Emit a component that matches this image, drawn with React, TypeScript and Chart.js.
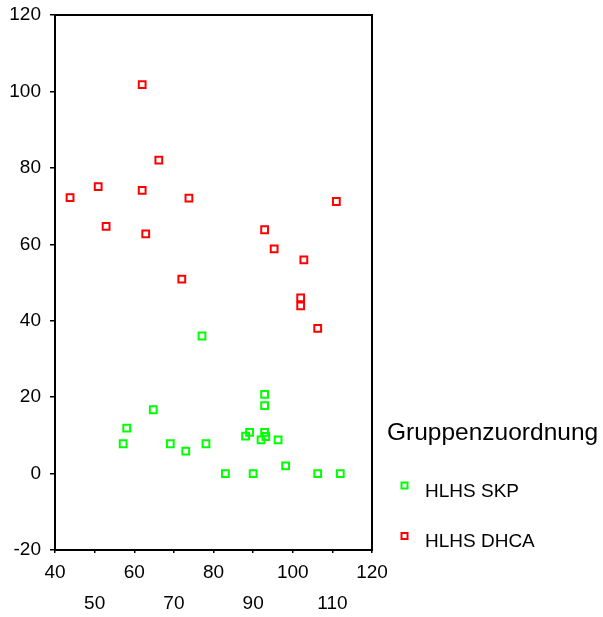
import React, { useEffect, useRef } from 'react';
import { Chart, registerables } from 'chart.js';

Chart.register(...registerables);

// Data
const skpX = [77.1, 92.9, 92.9, 64.8, 58.1, 57.2, 69.1, 73.0, 78.1, 83.0, 90.0, 88.1, 89.1, 92.0, 92.9, 93.2, 96.3, 98.2, 106.3, 112.0];
const skpY = [36, 20.7, 17.8, 16.7, 11.9, 7.8, 7.8, 5.9, 7.8, 0, 0, 9.8, 10.8, 8.8, 10.8, 9.7, 8.8, 2, 0, 0];
const dhcaX = [43.8, 50.9, 52.9, 62.0, 62.0, 62.9, 66.2, 73.8, 72.0, 92.9, 95.3, 102.8, 111.0, 102.0, 102.0, 106.3];
const dhcaY = [72.2, 75.1, 64.7, 101.8, 74.1, 62.7, 82.0, 72.1, 50.9, 63.8, 58.8, 55.9, 71.2, 46.0, 43.9, 38.0];

const seriesLabels = ['HLHS SKP', 'HLHS DHCA'];
const seriesColors = ['#00ff00', '#ff0000'];
const legendTitle = 'Gruppenzuordnung';

const xTicks = [40, 50, 60, 70, 80, 90, 100, 110, 120];
const yTicks = [-20, 0, 20, 40, 60, 80, 100, 120];

const FONT = '"Liberation Sans", Arial, Helvetica, sans-serif';

const framePlugin = {
  id: 'frame',
  beforeDatasetsDraw(chart: any) {
    const { ctx, chartArea } = chart;
    ctx.save();
    ctx.strokeStyle = '#000';
    ctx.lineWidth = 2;
    ctx.strokeRect(chartArea.left, chartArea.top, chartArea.right - chartArea.left, chartArea.bottom - chartArea.top);
    ctx.restore();
  },
};

const sideLegendPlugin = {
  id: 'sideLegend',
  afterDraw(chart: any) {
    const { ctx } = chart;
    ctx.save();
    ctx.fillStyle = '#000';
    ctx.textAlign = 'left';
    ctx.textBaseline = 'alphabetic';
    ctx.font = `24.5px ${FONT}`;
    ctx.fillText(legendTitle, 387, 440);
    chart.data.datasets.forEach((ds: any, i: number) => {
      const cy = 485.5 + i * 50.5;
      ctx.strokeStyle = ds.borderColor;
      ctx.lineWidth = 2;
      ctx.strokeRect(401.5, cy - 3, 6, 6);
      ctx.fillStyle = '#000';
      ctx.font = `19px ${FONT}`;
      ctx.textBaseline = 'middle';
      ctx.fillText(ds.label, 425, cy + 6);
    });
    ctx.restore();
  },
};

export default function App() {
  const ref = useRef<HTMLCanvasElement>(null);

  useEffect(() => {
    if (!ref.current) return;
    const mk = (xs: number[], ys: number[]) => xs.map((x, i) => ({ x, y: ys[i] }));
    const chart = new Chart(ref.current, {
      type: 'scatter',
      data: {
        datasets: [
          {
            label: seriesLabels[0],
            data: mk(skpX, skpY),
            borderColor: seriesColors[0],
            backgroundColor: 'rgba(0,0,0,0)',
            pointStyle: 'rect',
            pointRadius: 4.8,
            borderWidth: 2,
          },
          {
            label: seriesLabels[1],
            data: mk(dhcaX, dhcaY),
            borderColor: seriesColors[1],
            backgroundColor: 'rgba(0,0,0,0)',
            pointStyle: 'rect',
            pointRadius: 4.8,
            borderWidth: 2,
          },
        ],
      },
      options: {
        animation: false,
        responsive: false,
        devicePixelRatio: 1,
        layout: { padding: { left: 0, top: 15, right: 231, bottom: 0 } },
        plugins: { legend: { display: false }, tooltip: { enabled: false } },
        scales: {
          x: {
            type: 'linear',
            min: 40,
            max: 120,
            afterBuildTicks: (scale: any) => {
              scale.ticks = xTicks.map((v) => ({ value: v }));
            },
            afterFit: (scale: any) => {
              scale.height = 67;
              scale.paddingLeft = 0;
              scale.paddingRight = 0;
            },
            border: { display: true, color: '#000', width: 2 },
            grid: { drawOnChartArea: false, drawTicks: true, tickLength: 3, color: '#000', lineWidth: 1.5 },
            ticks: {
              color: '#000',
              padding: 4,
              maxRotation: 0,
              autoSkip: false,
              font: { family: FONT, size: 19, lineHeight: 1.658 },
              callback: (value: any, index: number) =>
                index % 2 === 0 ? [String(value), ''] : ['', String(value)],
            },
          },
          y: {
            type: 'linear',
            min: -20,
            max: 120,
            afterBuildTicks: (scale: any) => {
              scale.ticks = yTicks.map((v) => ({ value: v }));
            },
            afterFit: (scale: any) => {
              scale.width = 55;
              scale.paddingTop = 0;
              scale.paddingBottom = 0;
            },
            border: { display: true, color: '#000', width: 2 },
            grid: { drawOnChartArea: false, drawTicks: true, tickLength: 5, color: '#000', lineWidth: 1.5 },
            ticks: {
              color: '#000',
              padding: 9,
              autoSkip: false,
              font: { family: FONT, size: 19, lineHeight: 1.2 },
              callback: (value: any) => String(value),
            },
          },
        },
      },
      plugins: [framePlugin, sideLegendPlugin],
    });
    return () => chart.destroy();
  }, []);

  return (
    <div style={{ position: 'fixed', left: 0, top: 0, width: 603, height: 617, background: '#fff' }}>
      <canvas ref={ref} width={603} height={617} style={{ width: 603, height: 617, display: 'block' }} />
    </div>
  );
}
